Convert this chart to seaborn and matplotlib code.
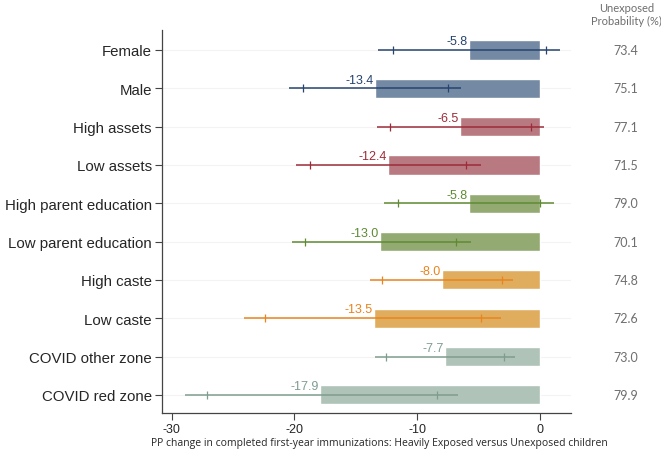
import matplotlib
matplotlib.use('Agg')
import matplotlib.pyplot as plt
import pandas as pd
import seaborn as sns

# valores
grupos = ['Female', 'Male', 'High assets', 'Low assets', 'High parent education',
          'Low parent education', 'High caste', 'Low caste', 'COVID other zone',
          'COVID red zone']
efeito = [-5.8, -13.4, -6.5, -12.4, -5.8, -13.0, -8.0, -13.5, -7.7, -17.9]
ic95_inf = [-13.2, -20.4, -13.3, -19.9, -12.7, -20.2, -13.8, -24.1, -13.4, -28.9]
ic95_sup = [1.6, -6.4, 0.3, -4.8, 1.1, -5.6, -2.2, -3.2, -2.0, -6.7]
ic90_inf = [-12.0, -19.3, -12.2, -18.7, -11.6, -19.1, -12.9, -22.4, -12.5, -27.1]
ic90_sup = [0.5, -7.5, -0.7, -6.0, 0.0, -6.8, -3.1, -4.8, -2.9, -8.4]
prob_nao_exposto = [73.4, 75.1, 77.1, 71.5, 79.0, 70.1, 74.8, 72.6, 73.0, 79.9]

cores_barra = ['#7489a3', '#7489a3', '#b97981', '#b97981', '#93ab72', '#93ab72',
               '#e0ad5f', '#e0ad5f', '#afc3b8', '#afc3b8']
cores_linha = ['#26446f', '#26446f', '#9c2c39', '#9c2c39', '#5e8b31', '#5e8b31',
               '#e9841f', '#e9841f', '#7f9d8f', '#7f9d8f']

df = pd.DataFrame({'grupo': grupos, 'efeito': efeito})

sns.set_style('white')
plt.rcParams['font.family'] = ['Liberation Sans', 'DejaVu Sans']
plt.rcParams['axes.unicode_minus'] = False

fig = plt.figure(figsize=(6.61, 4.52), dpi=100)
ax = fig.add_axes([0.2446, 0.0834, 0.6188, 0.848])

sns.barplot(data=df, x='efeito', y='grupo', hue='grupo', palette=cores_barra,
            legend=False, width=0.5, saturation=1, ax=ax, zorder=2)

for i in range(len(grupos)):
    cor = cores_linha[i]
    ax.axhline(i, color='#f3f3f3', lw=0.8, zorder=0)
    ax.hlines(i, ic95_inf[i], ic95_sup[i], color=cor, lw=1.1, zorder=3)
    ax.plot([ic90_inf[i], ic90_sup[i]], [i, i], ls='none', marker='|',
            ms=6, mew=0.9, color=cor, zorder=3)
    ax.text(efeito[i] - 0.1, i - 0.15, f'{efeito[i]:.1f}', ha='right',
            va='baseline', fontsize=9, color=cor)
    ax.text(1.135, i, f'{prob_nao_exposto[i]:.1f}', transform=ax.get_yaxis_transform(),
            ha='center', va='center', fontsize=9, color='#6e6e6e',
            family=['Lato', 'DejaVu Sans'])

fig.text(0.948, 0.982, 'Unexposed', ha='center', va='center', fontsize=8,
         color='#6e6e6e', family=['Lato', 'DejaVu Sans'])
fig.text(0.948, 0.953, 'Probability (%)', ha='center', va='center', fontsize=8,
         color='#6e6e6e', family=['Lato', 'DejaVu Sans'])

ax.set_xlim(-30.8, 2.5)
ax.set_ylim(9.48, -0.52)
ax.set_xticks([-30, -20, -10, 0])
ax.tick_params(axis='y', labelsize=10.8, length=5, width=0.8, color='#444444',
               left=True, pad=2)
ax.tick_params(axis='x', labelsize=9, length=5, width=0.8, color='#444444',
               bottom=True, pad=2)
ax.set_ylabel('')
ax.set_xlabel('PP change in completed first-year immunizations: Heavily Exposed versus Unexposed children',
              fontsize=7.5, family=['Open Sans', 'DejaVu Sans'])
ax.xaxis.set_label_coords(0.5325, -0.062)
sns.despine(ax=ax)
for s in ('left', 'bottom'):
    ax.spines[s].set_color('#444444')
    ax.spines[s].set_linewidth(0.9)

fig.savefig('out.png', dpi=100)
